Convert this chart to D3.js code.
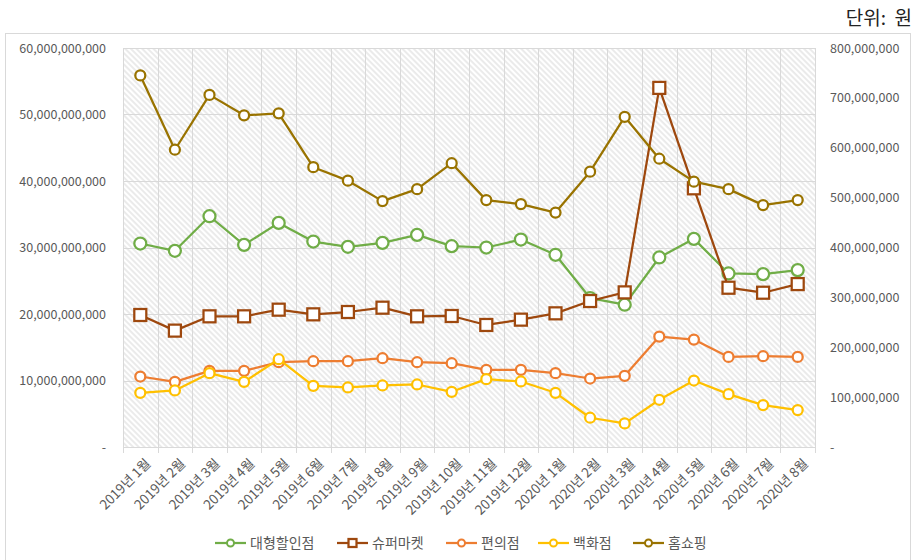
<!DOCTYPE html>
<html>
<head>
<meta charset="utf-8">
<script src="https://cdn.jsdelivr.net/npm/d3@7"></script>
<style>
  body { margin: 0; background: #fff; }
  text { font-family: "Noto Sans CJK KR", "Noto Sans", sans-serif; }
</style>
</head>
<body>
<div class="chart"></div>
<script>
var svgWidth = 916;
var svgHeight = 560;

var margin = { top: 48, right: 101, bottom: 113, left: 123 };
var width = svgWidth - margin.left - margin.right;
var height = svgHeight - margin.top - margin.bottom;

// months
var months = ["2019년 1월", "2019년 2월", "2019년 3월", "2019년 4월", "2019년 5월",
  "2019년 6월", "2019년 7월", "2019년 8월", "2019년 9월", "2019년 10월",
  "2019년 11월", "2019년 12월", "2020년 1월", "2020년 2월", "2020년 3월",
  "2020년 4월", "2020년 5월", "2020년 6월", "2020년 7월", "2020년 8월"];

// left axis series (원)
var discountStore = [30.6e9, 29.5e9, 34.7e9, 30.4e9, 33.7e9, 30.9e9, 30.1e9, 30.7e9, 31.9e9, 30.2e9,
  30.0e9, 31.2e9, 28.9e9, 22.4e9, 21.4e9, 28.5e9, 31.3e9, 26.1e9, 26.0e9, 26.6e9];
var superMarket = [19.85e9, 17.5e9, 19.65e9, 19.65e9, 20.65e9, 19.95e9, 20.3e9, 20.95e9, 19.65e9, 19.7e9,
  18.35e9, 19.15e9, 20.1e9, 21.95e9, 23.25e9, 54.0e9, 38.9e9, 23.95e9, 23.2e9, 24.5e9];
var convenience = [10.6e9, 9.8e9, 11.45e9, 11.45e9, 12.75e9, 12.9e9, 12.9e9, 13.35e9, 12.75e9, 12.6e9,
  11.6e9, 11.6e9, 11.1e9, 10.3e9, 10.7e9, 16.6e9, 16.15e9, 13.55e9, 13.65e9, 13.55e9];
var deptStore = [8.15e9, 8.5e9, 11.1e9, 9.8e9, 13.2e9, 9.2e9, 8.95e9, 9.25e9, 9.4e9, 8.3e9,
  10.2e9, 9.85e9, 8.15e9, 4.4e9, 3.55e9, 7.1e9, 10.0e9, 7.95e9, 6.3e9, 5.55e9];
// right axis series (원)
var homeShopping = [745e6, 596e6, 706e6, 665e6, 669e6, 561e6, 534e6, 493e6, 517e6, 569e6,
  495e6, 487e6, 470e6, 552e6, 662e6, 578e6, 532e6, 517e6, 485e6, 495e6];

var leftTicks = [0, 10e9, 20e9, 30e9, 40e9, 50e9, 60e9];
var rightTicks = [0, 100e6, 200e6, 300e6, 400e6, 500e6, 600e6, 700e6, 800e6];

var series = [
  { name: "대형할인점", values: discountStore, axis: "left", color: "#70ad47", marker: "circle", r: 6 },
  { name: "슈퍼마켓", values: superMarket, axis: "left", color: "#9e480e", marker: "square", r: 6 },
  { name: "편의점", values: convenience, axis: "left", color: "#ed7d31", marker: "circle", r: 5 },
  { name: "백화점", values: deptStore, axis: "left", color: "#ffc000", marker: "circle", r: 5 },
  { name: "홈쇼핑", values: homeShopping, axis: "right", color: "#997300", marker: "circle", r: 5 }
];

var svg = d3.select(".chart").append("svg")
  .attr("width", svgWidth)
  .attr("height", svgHeight);

// hatch pattern for plot area
var defs = svg.append("defs");
defs.append("pattern")
  .attr("id", "hatch")
  .attr("patternUnits", "userSpaceOnUse")
  .attr("width", 4)
  .attr("height", 4)
  .attr("patternTransform", "rotate(-45)")
  .append("line")
  .attr("x1", 1).attr("y1", 0)
  .attr("x2", 1).attr("y2", 4)
  .attr("stroke", "#d6d6d6")
  .attr("stroke-width", 1);

// outer chart border
svg.append("rect")
  .attr("x", 5.5).attr("y", 33.5)
  .attr("width", 905).attr("height", 540)
  .attr("fill", "none")
  .attr("stroke", "#d9d9d9");

svg.append("text")
  .attr("x", 912)
  .attr("y", 25)
  .attr("text-anchor", "end")
  .attr("font-size", 19)
  .attr("fill", "#222")
  .style("white-space", "pre")
  .text("단위:  원");

var chartGroup = svg.append("g")
  .attr("transform", `translate(${margin.left}, ${margin.top})`);

var x = d3.scaleBand().domain(months).range([0, width]);
var yLeft = d3.scaleLinear().domain([0, 60e9]).range([height, 0]);
var yRight = d3.scaleLinear().domain([0, 800e6]).range([height, 0]);

chartGroup.append("rect")
  .attr("width", width).attr("height", height)
  .attr("fill", "url(#hatch)");

// gridlines
chartGroup.selectAll(".hgrid")
  .data(leftTicks)
  .enter().append("line")
  .attr("x1", 0).attr("x2", width)
  .attr("y1", d => Math.round(yLeft(d)) + 0.5)
  .attr("y2", d => Math.round(yLeft(d)) + 0.5)
  .attr("stroke", "#d9d9d9");

var bounds = months.map(d => x(d)).concat([width]);
chartGroup.selectAll(".vgrid")
  .data(bounds)
  .enter().append("line")
  .attr("x1", d => Math.round(d) + 0.5).attr("x2", d => Math.round(d) + 0.5)
  .attr("y1", 0).attr("y2", height + 6)
  .attr("stroke", "#d9d9d9");

// axes
var fmt = d3.format(",");
var leftAxis = d3.axisLeft(yLeft).tickValues(leftTicks).tickSize(0).tickPadding(17)
  .tickFormat(d => d === 0 ? "-" : fmt(d));
var rightAxis = d3.axisRight(yRight).tickValues(rightTicks).tickSize(0).tickPadding(15)
  .tickFormat(d => d === 0 ? "-" : fmt(d));

var lg = chartGroup.append("g").call(leftAxis);
lg.select(".domain").remove();
lg.selectAll("text").attr("font-size", 12.5).attr("fill", "#595959").attr("font-family", null);

var rg = chartGroup.append("g").attr("transform", `translate(${width}, 0)`).call(rightAxis);
rg.select(".domain").remove();
rg.selectAll("text").attr("font-size", 12.5).attr("fill", "#595959").attr("font-family", null);

var bottomAxis = d3.axisBottom(x).tickSize(0);
var bg = chartGroup.append("g").attr("transform", `translate(0, ${height})`).call(bottomAxis);
bg.select(".domain").remove();
bg.selectAll("text")
  .attr("font-size", 13.5)
  .attr("fill", "#595959")
  .attr("font-family", null)
  .attr("x", 0)
  .attr("y", 0)
  .attr("dy", "0.35em")
  .attr("transform", "translate(8, 14) rotate(-45)")
  .style("text-anchor", "end")
  .style("white-space", "pre");

// lines and markers
series.forEach(function (s) {
  var y = s.axis === "left" ? yLeft : yRight;
  var line = d3.line()
    .x((d, i) => x(months[i]) + x.bandwidth() / 2)
    .y(d => y(d));

  chartGroup.append("path")
    .attr("d", line(s.values))
    .attr("fill", "none")
    .attr("stroke", s.color)
    .attr("stroke-width", 2.25)
    .attr("stroke-linejoin", "round");

  var pts = chartGroup.selectAll(null)
    .data(s.values)
    .enter();

  if (s.marker === "square") {
    pts.append("rect")
      .attr("x", (d, i) => x(months[i]) + x.bandwidth() / 2 - s.r)
      .attr("y", d => y(d) - s.r)
      .attr("width", s.r * 2)
      .attr("height", s.r * 2)
      .attr("fill", "#fff")
      .attr("stroke", s.color)
      .attr("stroke-width", 2.25);
  } else {
    pts.append("circle")
      .attr("cx", (d, i) => x(months[i]) + x.bandwidth() / 2)
      .attr("cy", d => y(d))
      .attr("r", s.r)
      .attr("fill", "#fff")
      .attr("stroke", s.color)
      .attr("stroke-width", 2.25);
  }
});

// legend
var legendX = [215, 337, 446, 538, 633];
var legend = svg.append("g")
  .selectAll("g")
  .data(series)
  .enter().append("g")
  .attr("transform", (d, i) => `translate(${legendX[i]}, 543)`);

legend.append("line")
  .attr("x1", 0).attr("x2", 31)
  .attr("stroke", d => d.color)
  .attr("stroke-width", 2.25);

legend.each(function (d) {
  var g = d3.select(this);
  if (d.marker === "square") {
    g.append("rect")
      .attr("x", 11.5).attr("y", -4)
      .attr("width", 8).attr("height", 8)
      .attr("fill", "#fff")
      .attr("stroke", d.color)
      .attr("stroke-width", 2.25);
  } else {
    g.append("circle")
      .attr("cx", 15.5).attr("cy", 0).attr("r", 3.5)
      .attr("fill", "#fff")
      .attr("stroke", d.color)
      .attr("stroke-width", 2);
  }
});

legend.append("text")
  .attr("x", 35)
  .attr("dy", "0.35em")
  .attr("font-size", 14)
  .attr("fill", "#595959")
  .text(d => d.name);
</script>
</body>
</html>
